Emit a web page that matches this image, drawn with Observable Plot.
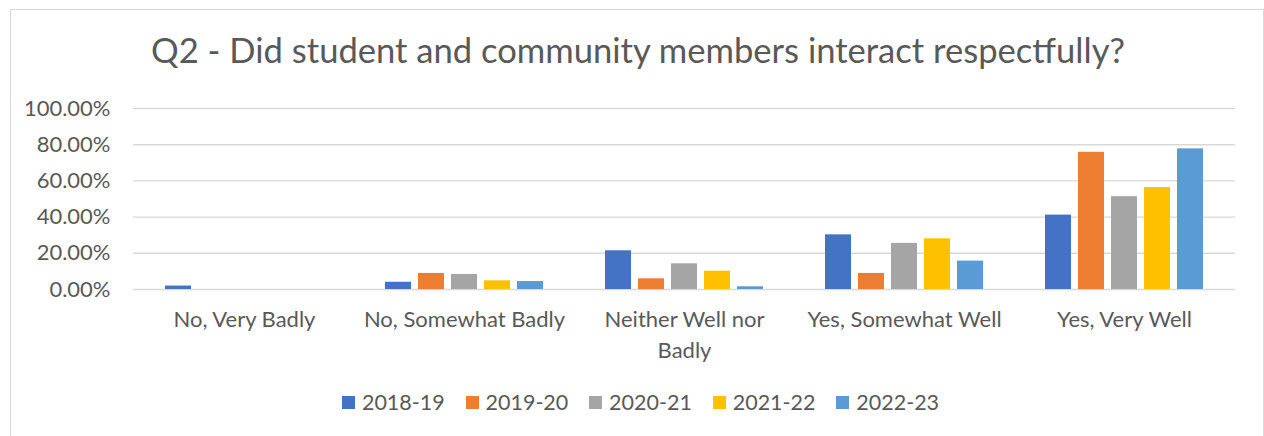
<!DOCTYPE html>
<html>
<head>
<meta charset="utf-8">
<script src="https://cdn.jsdelivr.net/npm/d3@7"></script>
<script src="https://cdn.jsdelivr.net/npm/@observablehq/plot@0.6"></script>
<style>
  html, body { margin: 0; padding: 0; background: #ffffff; }
  body { width: 1264px; height: 436px; position: relative; overflow: hidden; font-family: Lato, "Open Sans", sans-serif; color: #595959; }
  #frame { position: absolute; left: 10px; top: 9px; width: 1252px; height: 440px; border: 1px solid #d9d9d9; box-sizing: content-box; }
  #title { position: absolute; left: 10px; width: 1256px; top: 33px; text-align: center; font-size: 34.6px; line-height: 34.6px; color: #595959; white-space: nowrap; }
  .layer { position: absolute; left: 0; top: 90px; }
  #legend { position: absolute; left: 0; width: 1281px; top: 391.5px; display: flex; justify-content: center; align-items: center; font-size: 21.5px; line-height: 21.5px; color: #595959; }
  .item { display: flex; align-items: center; margin: 0 10.4px; }
  .sw { width: 13px; height: 13px; margin-right: 7px; }
</style>
</head>
<body>
<div id="frame"></div>
<div id="title"></div>
<div id="bg" class="layer"></div>
<div id="fg" class="layer"></div>
<div id="legend"></div>
<script>
const titleText = "Q2 - Did student and community members interact respectfully?";
const categories = ["No, Very Badly", "No, Somewhat Badly", "Neither Well nor Badly", "Yes, Somewhat Well", "Yes, Very Well"];
const categoryLabels = ["No, Very Badly", "No, Somewhat Badly", "Neither Well nor\nBadly", "Yes, Somewhat Well", "Yes, Very Well"];
const seriesNames = ["2018-19", "2019-20", "2020-21", "2021-22", "2022-23"];
const seriesColors = ["#4472C4", "#ED7D31", "#A5A5A5", "#FFC000", "#5B9BD5"];
const v2018_19 = [0.019, 0.040, 0.214, 0.302, 0.411];
const v2019_20 = [0.000, 0.089, 0.059, 0.089, 0.758];
const v2020_21 = [0.000, 0.083, 0.142, 0.255, 0.513];
const v2021_22 = [0.000, 0.048, 0.101, 0.280, 0.563];
const v2022_23 = [0.000, 0.044, 0.015, 0.157, 0.777];
const yTicks = [0, 0.2, 0.4, 0.6, 0.8, 1.0];

const seriesValues = [v2018_19, v2019_20, v2020_21, v2021_22, v2022_23];
const data = [];
seriesNames.forEach((s, i) => categories.forEach((c, j) => data.push({series: s, category: c, value: seriesValues[i][j]})));
const labelOf = new Map(categories.map((c, i) => [c, categoryLabels[i]]));

document.getElementById("title").textContent = titleText;

const W = 1264, H = 280;
const margins = {marginLeft: 133, marginRight: 29, marginTop: 18, marginBottom: 81};
const style = {fontFamily: "Lato, 'Open Sans', sans-serif", fontSize: "22px", color: "#595959", background: "transparent", overflow: "visible"};

const bg = Plot.plot({
  width: W, height: H, ...margins, style,
  y: {domain: [0, 1]},
  marks: [
    Plot.gridY(yTicks, {stroke: "#d9d9d9", strokeOpacity: 1, strokeWidth: 1.4}),
    Plot.axisY(yTicks, {tickSize: 0, tickPadding: 23, tickFormat: d3.format(".2%"), label: null, fill: "#595959"})
  ]
});
document.getElementById("bg").appendChild(bg);

const fg = Plot.plot({
  width: W, height: H, ...margins, style,
  fx: {domain: categories, paddingInner: 0.263, paddingOuter: 0.1315, label: null},
  x: {domain: seriesNames, paddingInner: 0.22, paddingOuter: 0, axis: null},
  y: {domain: [0, 1], axis: null},
  color: {domain: seriesNames, range: seriesColors},
  marks: [
    Plot.barY(data, {fx: "category", x: "series", y: "value", fill: "series"}),
    Plot.axisFx({anchor: "bottom", tickSize: 0, tickPadding: 16.5, label: null, lineHeight: 1.37, tickFormat: d => labelOf.get(d), fill: "#595959"})
  ]
});
document.getElementById("fg").appendChild(fg);

const legend = document.getElementById("legend");
seriesNames.forEach((s, i) => {
  const it = document.createElement("div");
  it.className = "item";
  const sw = document.createElement("div");
  sw.className = "sw";
  sw.style.background = seriesColors[i];
  const tx = document.createElement("span");
  tx.textContent = s;
  it.appendChild(sw); it.appendChild(tx);
  legend.appendChild(it);
});
</script>
</body>
</html>
